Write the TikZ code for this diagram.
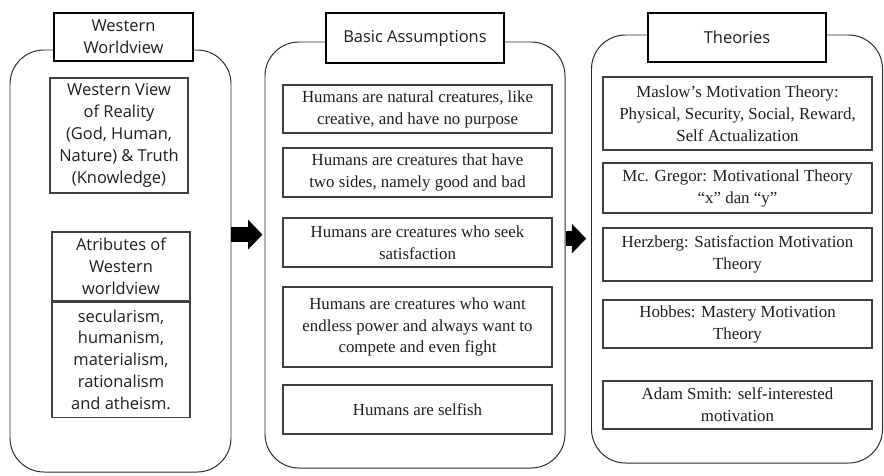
\documentclass[tikz,border=0pt]{standalone}
\usepackage{fontspec}
\setmainfont{Liberation Serif}
\newfontfamily\headfont{Open Sans}
\definecolor{PanelLine}{HTML}{2B2B2B}
\definecolor{BoxLine}{HTML}{404040}
\definecolor{InkText}{HTML}{1E1E1E}
\usetikzlibrary{arrows.meta,positioning}
\tikzset{
  panel/.style={draw=PanelLine, rounded corners=8.5mm, line width=0.7pt, minimum height=105.5mm},
  headbox/.style={draw=black, fill=white, line width=1.6pt, align=center, minimum height=12.25mm, minimum width=44.5mm, font=\headfont\fontsize{11.7}{15.5}\selectfont, text=InkText},
  sansbox/.style={draw=BoxLine, line width=0.8pt, align=center, minimum width=34.5mm, inner sep=1pt, font=\headfont\fontsize{11.7}{15.5}\selectfont, text=InkText},
  item/.style={draw=BoxLine, line width=0.8pt, align=center, minimum width=67.25mm, inner sep=1pt, font=\fontsize{12}{15.6}\selectfont, text=InkText},
  blockarrow/.style={-{Triangle[length=3.6mm,width=7.2mm]}, line width=3.6mm, black}
}

\begin{document}
\begin{tikzpicture}[x=0.25mm, y=-0.25mm]
    \useasboundingbox (0,0) rectangle (884,475);

    % Western worldview
    \node[panel, minimum width=55.25mm] (wpanel) at (120.5,261) {};
    \node[headbox, minimum width=34.75mm, minimum height=12mm] (whead) at (123.5,37) {Western\\Worldview};
    \node[sansbox, minimum height=28.75mm] (wview) at (119,135.5) {Western View\\of Reality\\(God, Human,\\Nature) \& Truth\\(Knowledge)};
    \node[sansbox, minimum height=17.25mm] (wattr) at (121,266.5) {Atributes of\\Western\\worldview};
    \node[sansbox, minimum height=28.75mm, below=0pt of wattr] (wlist) {secularism,\\humanism,\\materialism,\\rationalism\\and atheism.};

    % Basic assumptions
    \node[panel, minimum width=75mm, minimum height=106.5mm] (bpanel) at (415,255) {};
    \node[headbox, minimum height=12.5mm] (bhead) at (415,38) {Basic Assumptions};
    \node[item, minimum height=12mm] (bnatural) at (417.5,109) {Humans are natural creatures, like\\creative, and have no purpose};
    \node[item, minimum height=12.25mm] (btwo) at (417.5,172.5) {Humans are creatures that have\\two sides, namely good and bad};
    \node[item, minimum height=12.25mm] (bseek) at (417.5,242.5) {Humans are creatures who seek\\satisfaction};
    \node[item, minimum height=20mm] (bpower) at (417.5,327) {Humans are creatures who want\\endless power and always want to\\compete and even fight};
    \node[item, minimum height=12.25mm] (bselfish) at (417.5,409.5) {Humans are selfish};

    % Theories
    \node[panel, minimum width=72.75mm, minimum height=107mm] (tpanel) at (737,249) {};
    \node[headbox, minimum height=12.25mm] (thead) at (737,37.5) {Theories};
    \node[item, minimum height=18.25mm] (tmaslow) at (737.5,113.5) {Maslow’s Motivation Theory:\\Physical, Security, Social, Reward,\\Self Actualization};
    \node[item, minimum height=12.5mm] (tgregor) at (737.5,188) {Mc. Gregor: Motivational Theory\\“x” dan “y”};
    \node[item, minimum height=13.25mm] (therz) at (737.5,254.5) {Herzberg: Satisfaction Motivation\\Theory};
    \node[item, minimum height=12mm] (thobbes) at (737.5,324) {Hobbes: Mastery Motivation\\Theory};
    \node[item, minimum height=12mm] (tsmith) at (737.5,405) {Adam Smith: self-interested\\motivation};

    \coordinate (a1) at ([yshift=6.6mm]wpanel.east);
    \coordinate (a2) at ([yshift=4.1mm]bpanel.east);
    \draw[blockarrow, shorten >=0.5mm] (a1) -- (a1 -| bpanel.west);
    \draw[blockarrow, shorten >=1.2mm] (a2) -- (a2 -| tpanel.west);
  \end{tikzpicture}
\end{document}
